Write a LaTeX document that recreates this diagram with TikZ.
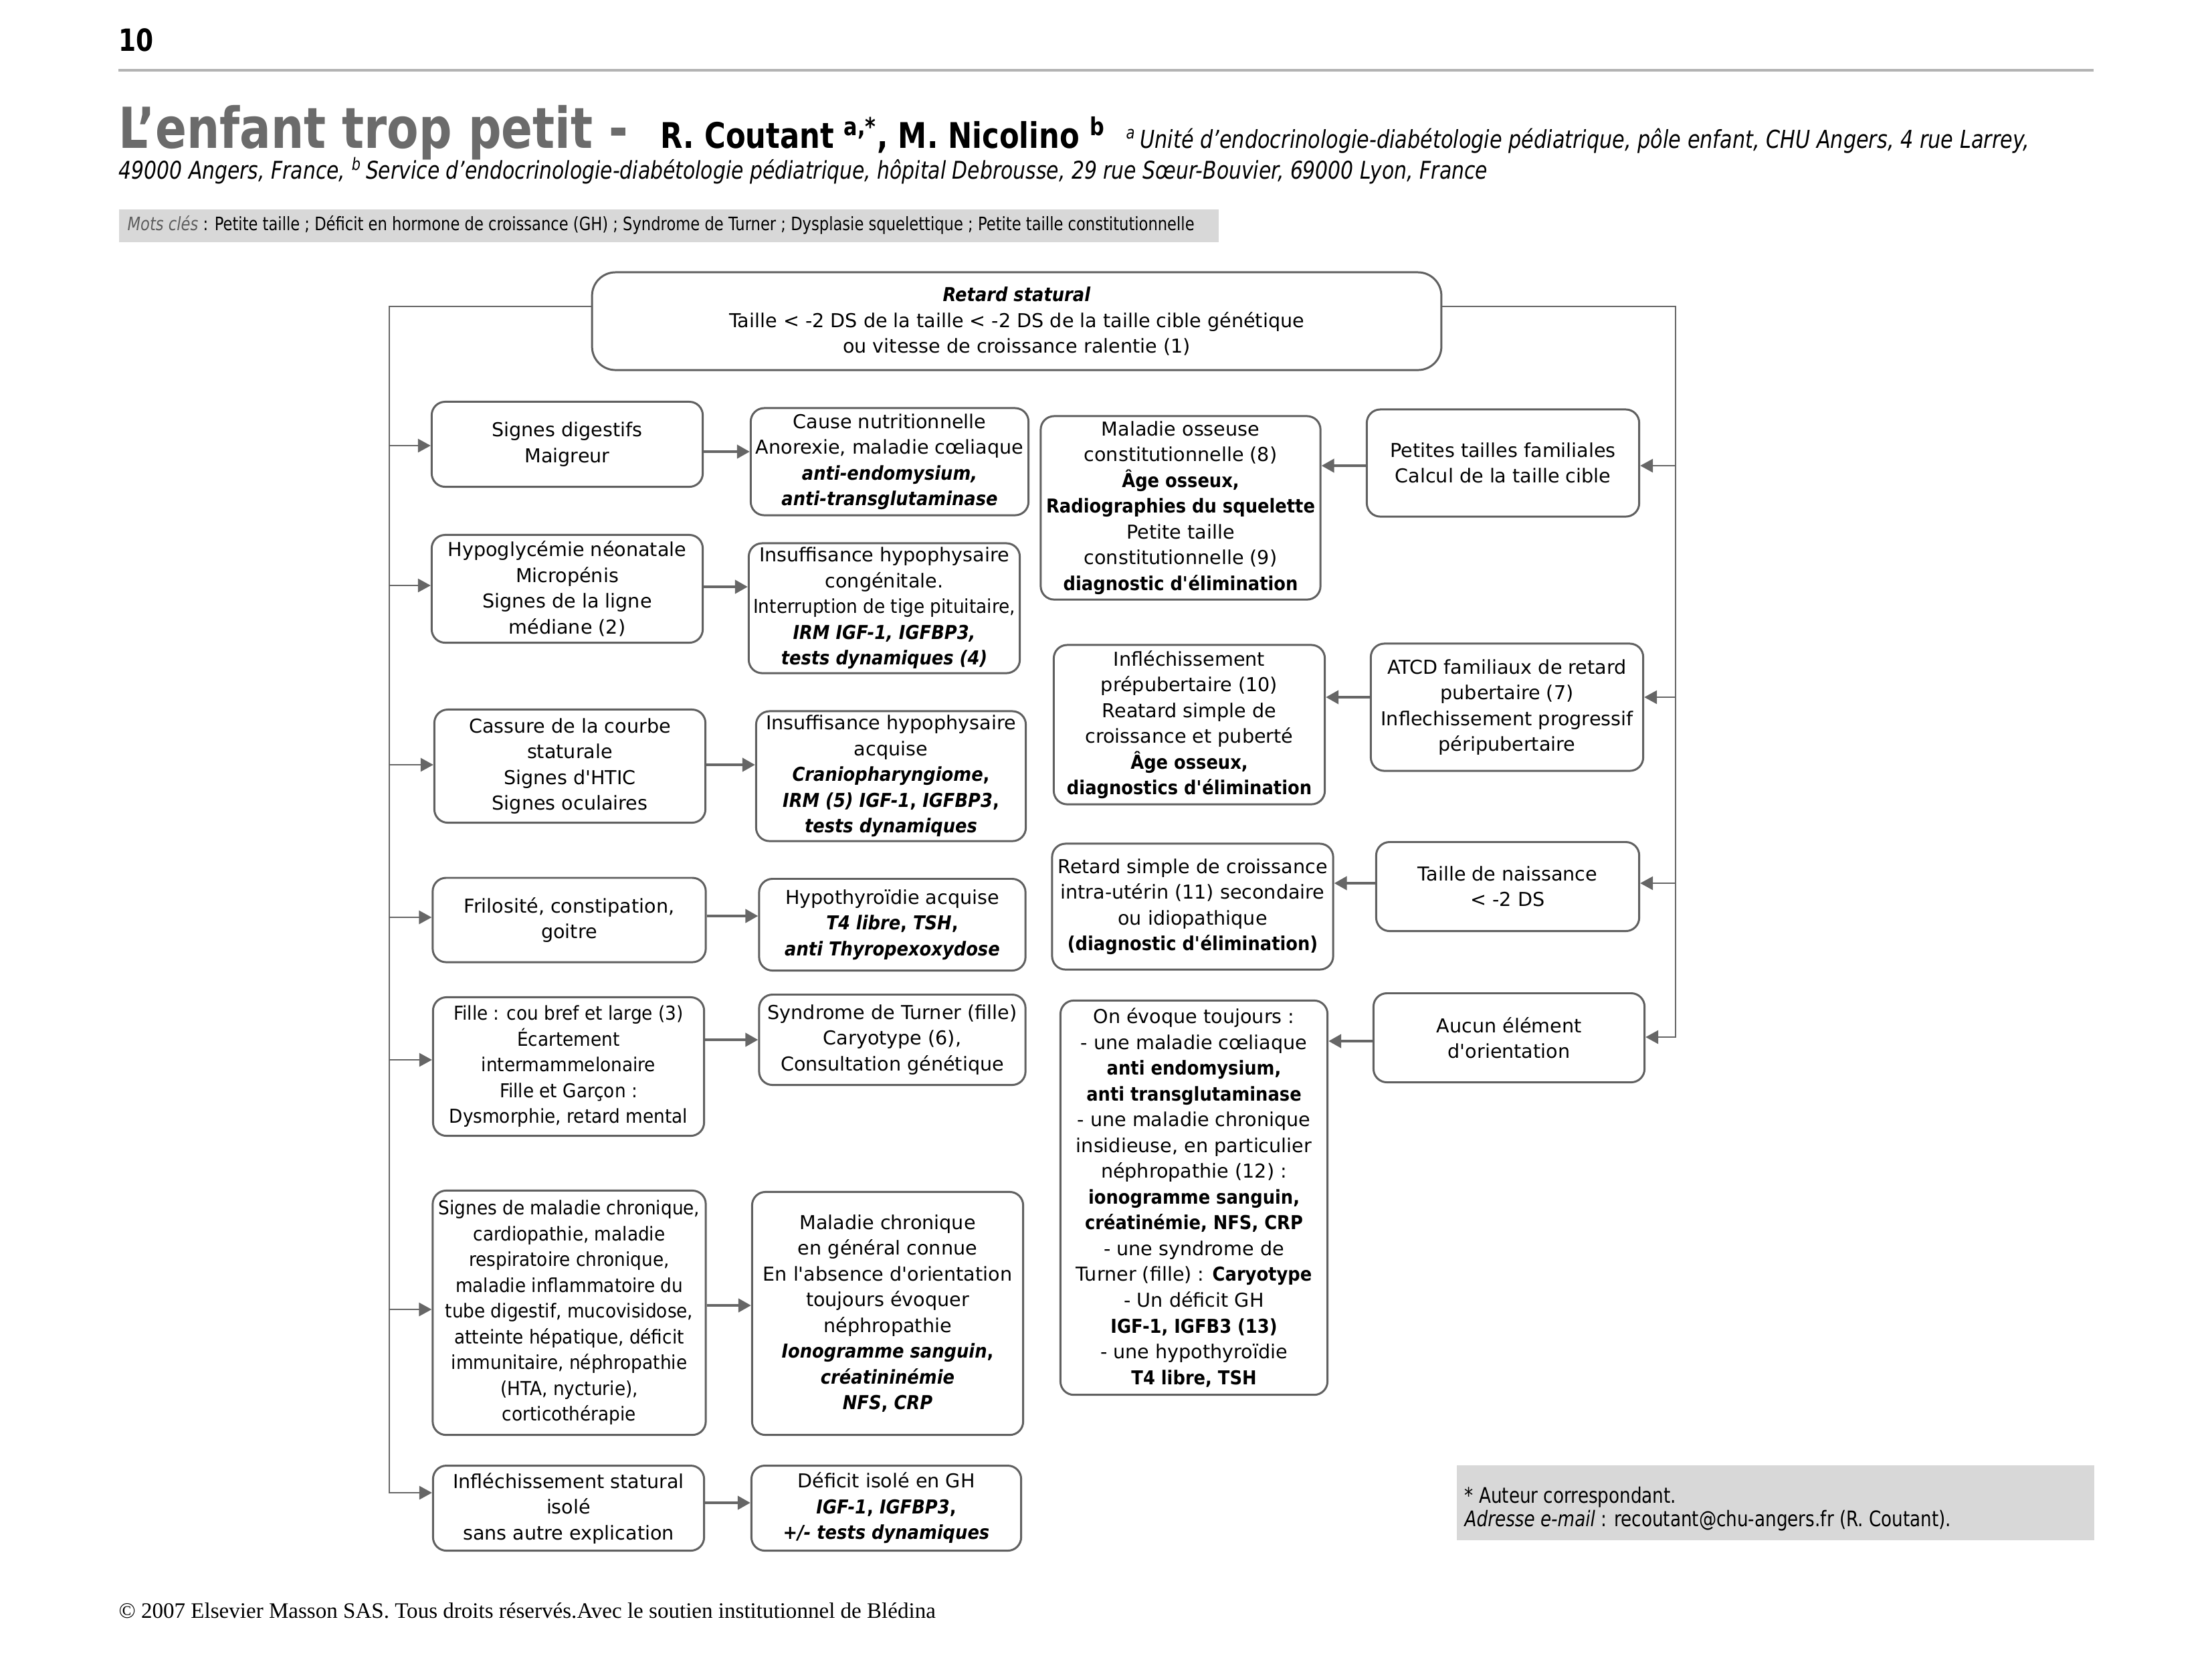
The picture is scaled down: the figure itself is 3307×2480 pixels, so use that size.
\documentclass[tikz,border=0pt]{standalone}
\usepackage{fontspec}
\usetikzlibrary{arrows.meta}
\setmainfont{DejaVu Sans}[BoldFeatures={FakeStretch=0.9},BoldItalicFeatures={FakeStretch=0.9}]
\newfontfamily\condf{DejaVu Sans}[FakeStretch=0.92]
\newfontfamily\hdrf{DejaVu Sans}[FakeStretch=0.82]
\newfontfamily\serf{Liberation Serif}
\definecolor{boxc}{HTML}{606060}
\definecolor{arrc}{HTML}{666666}
\definecolor{titlec}{HTML}{6B6B6B}
\definecolor{rulec}{HTML}{B3B3B3}
\definecolor{kwgray}{HTML}{D8D8D8}
\definecolor{mcgray}{HTML}{5E5E5E}
\newcommand\boxfont{\fontsize{8.14}{10.95}\selectfont}
\newcommand\bfit[1]{\textbf{\textit{#1}}}
\newcommand\ap{\textquotesingle}
\tikzset{
  bx/.style={draw=boxc, line width=0.85pt, fill=white, rounded corners=0.2cm, align=center, inner sep=0pt, font=\boxfont},
  arr/.style={draw=arrc, line width=1.2pt, -{Triangle[length=0.19cm,width=0.2cm]}},
  spinearr/.style={draw=arrc, line width=0.8pt, -{Triangle[length=0.19cm,width=0.2cm]}},
}
\begin{document}
\begin{tikzpicture}[x=0.01cm,y=-0.01cm]
\useasboundingbox (0,0) rectangle (3307,2480);
\fill[white] (0,0) rectangle (3307,2480);

% ---------- header ----------
\node[anchor=base west, inner sep=0] (pg) at (177,76) {\hdrf\bfseries\fontsize{13}{15}\selectfont 10};
\draw[rulec, line width=1.3pt] (177,105) -- (3130,105);
\node[anchor=base west, inner sep=0] (title) at (177,221) {\hdrf\bfseries\fontsize{24}{28}\selectfont\color{titlec}L’enfant trop petit -};
\node[anchor=base west, inner sep=0] (auth) at (987,221) {\hdrf\bfseries\fontsize{15}{18}\selectfont R. Coutant \textsuperscript{a,*}, M. Nicolino \textsuperscript{b}};
\node[anchor=base west, inner sep=0] (aff1) at (1683,221) {\hdrf\itshape\fontsize{10.5}{12}\selectfont \textsuperscript{a}\,Unité d’endocrinologie-diabétologie pédiatrique, pôle enfant, CHU Angers, 4 rue Larrey,};
\node[anchor=base west, inner sep=0] (aff2) at (177,267) {\hdrf\itshape\fontsize{10.35}{12}\selectfont 49000 Angers, France, \textsuperscript{b}\,Service d’endocrinologie-diabétologie pédiatrique, hôpital Debrousse, 29 rue Sœur-Bouvier, 69000 Lyon, France};
\node[fill=kwgray, anchor=north west, inner sep=0, minimum width=16.43cm, minimum height=0.49cm] (kw) at (177,312) {};
\node[anchor=west, inner sep=0] (kwt) at (190,336) {\hdrf\fontsize{7.85}{9}\selectfont{\itshape\color{mcgray}Mots clés} : Petite taille ; Déficit en hormone de croissance (GH) ; Syndrome de Turner ; Dysplasie squelettique ; Petite taille constitutionnelle};

% ---------- top box ----------
\node[bx, rounded corners=0.35cm, minimum width=12.69cm, minimum height=1.46cm] (top) at (1520,480)
  {\bfit{Retard statural}\\Taille < -2 DS de la taille < -2 DS de la taille cible génétique\\ou vitesse de croissance ralentie (1)};

% ---------- left column ----------
\node[bx, minimum width=4.05cm, minimum height=1.27cm] (L1) at (848,664) {Signes digestifs\\Maigreur};
\node[bx, minimum width=4.05cm, minimum height=1.61cm] (L2) at (848,880) {Hypoglycémie néonatale\\Micropénis\\Signes de la ligne\\médiane (2)};
\node[bx, minimum width=4.05cm, minimum height=1.69cm] (L3) at (852,1145) {Cassure de la courbe\\staturale\\Signes d\ap HTIC\\Signes oculaires};
\node[bx, minimum width=4.08cm, minimum height=1.26cm] (L4) at (851,1375) {Frilosité, constipation,\\goitre};
\node[bx, font=\boxfont\condf, minimum width=4.05cm, minimum height=2.07cm] (L5) at (850,1594) {Fille : cou bref et large (3)\\Écartement\\intermammelonaire\\Fille et Garçon :\\Dysmorphie, retard mental};
\node[bx, font=\boxfont\condf, minimum width=4.08cm, minimum height=3.65cm] (L6) at (851,1962) {Signes de maladie chronique,\\cardiopathie, maladie\\respiratoire chronique,\\maladie inflammatoire du\\tube digestif, mucovisidose,\\atteinte hépatique, déficit\\immunitaire, néphropathie\\(HTA, nycturie),\\corticothérapie};
\node[bx, minimum width=4.05cm, minimum height=1.27cm] (L7) at (850,2254) {Infléchissement statural\\isolé\\sans autre explication};

% ---------- middle column ----------
\node[bx, minimum width=4.15cm, minimum height=1.60cm] (M1) at (1330,690) {Cause nutritionnelle\\Anorexie, maladie cœliaque\\\bfit{anti-endomysium,}\\\bfit{anti-transglutaminase}};
\node[bx, minimum width=4.05cm, minimum height=1.94cm] (M2) at (1322,909) {Insuffisance hypophysaire\\congénitale.\\{\condf Interruption de tige pituitaire,}\\\bfit{IRM IGF-1, IGFBP3,}\\\bfit{tests dynamiques (4)}};
\node[bx, minimum width=4.03cm, minimum height=1.94cm] (M3) at (1332,1160) {Insuffisance hypophysaire\\acquise\\\bfit{Craniopharyngiome}\textbf{,}\\\bfit{IRM (5) IGF-1}\textbf{,} \bfit{IGFBP3}\textbf{,}\\\bfit{tests dynamiques}};
\node[bx, minimum width=3.98cm, minimum height=1.37cm] (M4) at (1334,1382) {Hypothyroïdie acquise\\\bfit{T4 libre}\textbf{,} \bfit{TSH}\textbf{,}\\\bfit{anti Thyropexoxydose}};
\node[bx, minimum width=3.98cm, minimum height=1.35cm] (M5) at (1334,1554) {Syndrome de Turner (fille)\\Caryotype (6),\\Consultation génétique};
\node[bx, minimum width=4.05cm, minimum height=3.63cm] (M6) at (1327,1963) {Maladie chronique\\en général connue\\En l\ap absence d\ap orientation\\toujours évoquer\\néphropathie\\\bfit{Ionogramme sanguin}\textbf{,}\\\bfit{créatininémie}\\\bfit{NFS}\textbf{,} \bfit{CRP}};
\node[bx, minimum width=4.03cm, minimum height=1.27cm] (M7) at (1325,2254) {Déficit isolé en GH\\\bfit{IGF-1}\textbf{,} \bfit{IGFBP3}\textbf{,}\\\bfit{+/- tests dynamiques}};

% ---------- centre-right column ----------
\node[bx, minimum width=4.18cm, minimum height=2.74cm] (C1) at (1765,759) {Maladie osseuse\\constitutionnelle (8)\\\textbf{Âge osseux,}\\\textbf{Radiographies du squelette}\\Petite taille\\constitutionnelle (9)\\\textbf{diagnostic d\ap élimination}};
\node[bx, minimum width=4.05cm, minimum height=2.38cm] (C2) at (1778,1083) {Infléchissement\\prépubertaire (10)\\Reatard simple de\\croissance et puberté\\\textbf{Âge osseux,}\\\textbf{diagnostics d\ap élimination}};
\node[bx, minimum width=4.20cm, minimum height=1.88cm] (C3) at (1783,1355) {Retard simple de croissance\\intra-utérin (11) secondaire\\ou idiopathique\\\textbf{(diagnostic d\ap élimination)}};
\node[bx, minimum width=3.99cm, minimum height=5.89cm] (C4) at (1785,1790) {On évoque toujours :\\- une maladie cœliaque\\\textbf{anti endomysium,}\\\textbf{anti transglutaminase}\\- une maladie chronique\\insidieuse, en particulier\\néphropathie (12) :\\\textbf{ionogramme sanguin,}\\\textbf{créatinémie, NFS, CRP}\\- une syndrome de\\Turner (fille) : \textbf{Caryotype}\\- Un déficit GH\\\textbf{IGF-1, IGFB3 (13)}\\- une hypothyroïdie\\\textbf{T4 libre, TSH}};

% ---------- right column ----------
\node[bx, minimum width=4.07cm, minimum height=1.60cm] (R1) at (2247,692) {Petites tailles familiales\\Calcul de la taille cible};
\node[bx, minimum width=4.07cm, minimum height=1.90cm] (R2) at (2253,1057) {ATCD familiaux de retard\\pubertaire (7)\\Inflechissement progressif\\péripubertaire};
\node[bx, minimum width=3.93cm, minimum height=1.33cm] (R3) at (2254,1325) {Taille de naissance\\< -2 DS};
\node[bx, minimum width=4.05cm, minimum height=1.33cm] (R4) at (2256,1551) {Aucun élément\\d\ap orientation};

% ---------- spines ----------
\coordinate (lt) at (582,458);
\coordinate (lb) at (582,2231);
\coordinate (rt) at (2505,458);
\coordinate (rb) at (2505,1550);
\draw[spinearr] (top.west |- lt) -- (lt) -- (lb) -- (L7.west |- lb);
\draw[spinearr] (top.east |- rt) -- (rt) -- (rb) -- (R4.east |- rb);
\foreach \n/\y in {L1/666, L2/875, L3/1143, L4/1371, L5/1584, L6/1957}
  \draw[spinearr] (lt |- 0,\y) -- (\n.west |- 0,\y);
\foreach \n/\y in {R1/696, R2/1042, R3/1320}
  \draw[spinearr] (rt |- 0,\y) -- (\n.east |- 0,\y);

% ---------- arrows between boxes ----------
\foreach \a/\b/\y in {L1/M1/675, L2/M2/877, L3/M3/1143, L4/M4/1369, L5/M5/1554, L6/M6/1951, L7/M7/2246}
  \draw[arr] (\a.east |- 0,\y) -- (\b.west |- 0,\y);
\foreach \a/\b/\y in {R1/C1/696, R2/C2/1042, R3/C3/1320, R4/C4/1556}
  \draw[arr] (\a.west |- 0,\y) -- (\b.east |- 0,\y);

% ---------- note & footer ----------
\node[fill=kwgray, anchor=north west, inner sep=0, minimum width=9.53cm, minimum height=1.12cm] (nb) at (2177,2189) {};
\node[anchor=base west, inner sep=0] (n1) at (2189,2246) {\hdrf\fontsize{9.1}{10}\selectfont * Auteur correspondant.};
\node[anchor=base west, inner sep=0] (n2) at (2189,2281) {\hdrf\fontsize{9.1}{10}\selectfont\textit{Adresse e-mail} : recoutant@chu-angers.fr (R. Coutant).};
\node[anchor=base west, inner sep=0] (foot) at (177,2418) {\serf\fontsize{9.4}{10}\selectfont © 2007 Elsevier Masson SAS. Tous droits réservés.Avec le soutien institutionnel de Blédina};
\end{tikzpicture}
\end{document}
